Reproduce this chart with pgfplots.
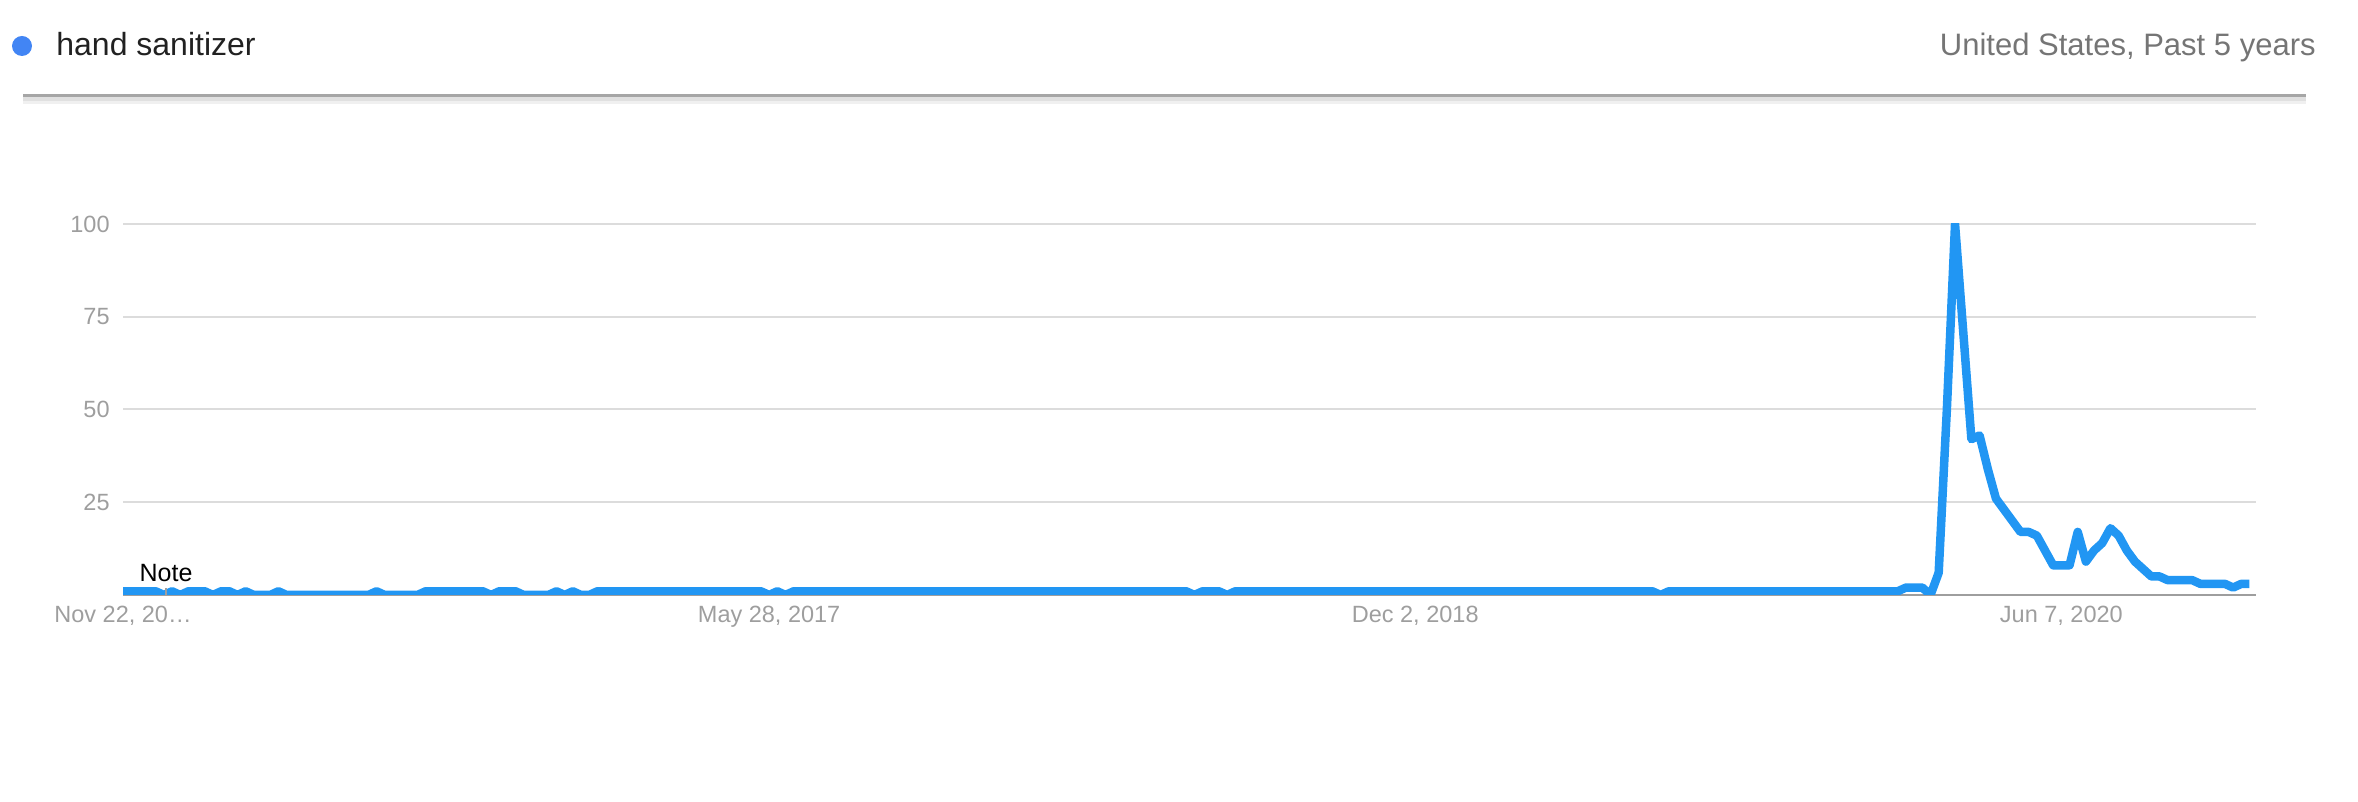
\documentclass[border=0pt]{standalone}
\usepackage{fontspec}
\setmainfont{Liberation Sans}
\usepackage{pgfplots}
\pgfplotsset{compat=1.18}

\definecolor{trendblue}{HTML}{2196F3}
\definecolor{dotblue}{HTML}{4285F4}
\definecolor{gridgray}{HTML}{DCDCDC}
\definecolor{ticktext}{HTML}{9E9E9E}
\definecolor{subtext}{HTML}{757575}
\definecolor{axisgray}{HTML}{9E9E9E}

\begin{document}
\begin{tikzpicture}[x=0.5pt,y=0.5pt]
\path[use as bounding box] (0,0) rectangle (2358,802);

% header: legend entry, region and range
\fill[dotblue] (22,756) circle (5pt);
\node[anchor=base west,inner sep=0pt,font=\fontsize{16}{19}\selectfont,text=black!87] at (56,746) {hand sanitizer};
\node[anchor=base east,inner sep=0pt,font=\fontsize{15.5}{19}\selectfont,text=subtext] at (2316,746) {United States, Past 5 years};
\draw[line width=2pt,black!6] (23,700) -- (2306,700);
\draw[line width=2pt,black!12] (23,703) -- (2306,703);
\draw[line width=1.5pt,black!35] (23,706) -- (2306,706);

\begin{axis}[
    at={(61.5pt,103.5pt)}, anchor=south west,
    scale only axis,
    width=1066.5pt, height=185.5pt,
    xmin=0, xmax=260.8,
    ymin=0, ymax=100,
    axis x line*=bottom,
    axis y line*=left,
    x axis line style={draw=axisgray,line width=1pt,-},
    y axis line style={draw=none},
    major tick length=0pt,
    ytick={25,50,75,100},
    xtick={0,79,158,237},
    xticklabels={{Nov 22, 20…},{May 28, 2017},{Dec 2, 2018},{Jun 7, 2020}},
    ymajorgrids,
    grid style={gridgray,line width=1pt},
    tick label style={font=\fontsize{11.75}{14}\selectfont,text=ticktext,inner sep=0pt},
    /pgf/number format/assume math mode=true,
    yticklabel style={anchor=east,xshift=-6.5pt},
    xticklabel style={anchor=base,yshift=-14pt},
]
\addplot[trendblue, line width=4.25pt, line join=round] coordinates {
(0,1) (1,1) (2,1) (3,1) (4,1) (5,0) (6,1) (7,0) (8,1) (9,1)
(10,1) (11,0) (12,1) (13,1) (14,0) (15,1) (16,0) (17,0) (18,0) (19,1)
(20,0) (21,0) (22,0) (23,0) (24,0) (25,0) (26,0) (27,0) (28,0) (29,0)
(30,0) (31,1) (32,0) (33,0) (34,0) (35,0) (36,0) (37,1) (38,1) (39,1)
(40,1) (41,1) (42,1) (43,1) (44,1) (45,0) (46,1) (47,1) (48,1) (49,0)
(50,0) (51,0) (52,0) (53,1) (54,0) (55,1) (56,0) (57,0) (58,1) (59,1)
(60,1) (61,1) (62,1) (63,1) (64,1) (65,1) (66,1) (67,1) (68,1) (69,1)
(70,1) (71,1) (72,1) (73,1) (74,1) (75,1) (76,1) (77,1) (78,1) (79,0)
(80,1) (81,0) (82,1) (83,1) (84,1) (85,1) (86,1) (87,1) (88,1) (89,1)
(90,1) (91,1) (92,1) (93,1) (94,1) (95,1) (96,1) (97,1) (98,1) (99,1)
(100,1) (101,1) (102,1) (103,1) (104,1) (105,1) (106,1) (107,1) (108,1) (109,1)
(110,1) (111,1) (112,1) (113,1) (114,1) (115,1) (116,1) (117,1) (118,1) (119,1)
(120,1) (121,1) (122,1) (123,1) (124,1) (125,1) (126,1) (127,1) (128,1) (129,1)
(130,1) (131,0) (132,1) (133,1) (134,1) (135,0) (136,1) (137,1) (138,1) (139,1)
(140,1) (141,1) (142,1) (143,1) (144,1) (145,1) (146,1) (147,1) (148,1) (149,1)
(150,1) (151,1) (152,1) (153,1) (154,1) (155,1) (156,1) (157,1) (158,1) (159,1)
(160,1) (161,1) (162,1) (163,1) (164,1) (165,1) (166,1) (167,1) (168,1) (169,1)
(170,1) (171,1) (172,1) (173,1) (174,1) (175,1) (176,1) (177,1) (178,1) (179,1)
(180,1) (181,1) (182,1) (183,1) (184,1) (185,1) (186,1) (187,1) (188,0) (189,1)
(190,1) (191,1) (192,1) (193,1) (194,1) (195,1) (196,1) (197,1) (198,1) (199,1)
(200,1) (201,1) (202,1) (203,1) (204,1) (205,1) (206,1) (207,1) (208,1) (209,1)
(210,1) (211,1) (212,1) (213,1) (214,1) (215,1) (216,1) (217,1) (218,2) (219,2)
(220,2) (221,0) (222,6) (223,50) (224,100) (225,71) (226,42) (227,43) (228,34) (229,26)
(230,23) (231,20) (232,17) (233,17) (234,16) (235,12) (236,8) (237,8) (238,8) (239,17)
(240,9) (241,12) (242,14) (243,18) (244,16) (245,12) (246,9) (247,7) (248,5) (249,5)
(250,4) (251,4) (252,4) (253,4) (254,3) (255,3) (256,3) (257,3) (258,2) (259,3)
(260,3)
};
% annotation marker
\draw[ticktext,line width=0.6pt] (axis cs:5.26,0) -- ++(0,3.5pt);
\node[anchor=base,inner sep=0pt,font=\fontsize{12.5}{15}\selectfont,yshift=6.5pt] at (axis cs:5.26,0) {Note};
\end{axis}
\end{tikzpicture}
\end{document}
